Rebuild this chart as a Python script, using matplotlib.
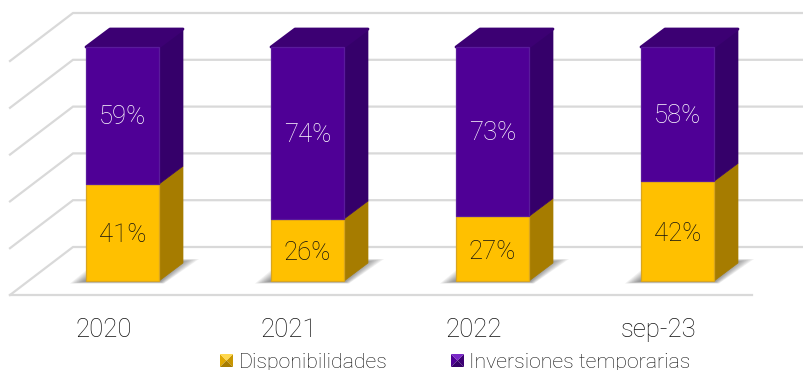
import matplotlib
matplotlib.use("Agg")
import matplotlib.pyplot as plt
from matplotlib.patches import Polygon

plt.rcParams['font.family'] = ['Roboto', 'DejaVu Sans']

categories = ['2020', '2021', '2022', 'sep-23']
# heights as measured on the picture, labels as printed
disponibilidades = [41.4, 26.5, 27.6, 42.6]
inversiones = [58.6, 73.5, 72.4, 57.4]
disp_labels = ['41%', '26%', '27%', '42%']
inv_labels = ['59%', '74%', '73%', '58%']
grid_values = [0, 20, 40, 60, 80, 100]
legend_labels = ['Disponibilidades', 'Inversiones temporarias']

W, H = 804, 370
X0, STEP = 122.5, 185.0   # pixel centre of first bar, spacing
Y0, UNIT = 281.0, 2.34    # pixel of value 0, pixels per percent


def px(x, y):
    # picture pixels to data coords
    return (x - X0) / STEP, (Y0 - y) / UNIT


fig = plt.figure(figsize=(W / 100, H / 100), dpi=100)
ax = fig.add_axes([0, 0, 1, 1])
ax.set_xlim(px(0, 0)[0], px(W, 0)[0])
ax.set_ylim(px(0, H)[1], px(0, 0)[1])
ax.axis('off')

half = 36.5 / STEP
dx = 24 / STEP
dy = 18 / UNIT
GRID = '#d9d9d9'
TEXT = '#111111'

# back wall and side wall grid lines
back_x = px(73, 0)[0]
left_x = px(10, 0)[0]
wall_drop = 48 / UNIT
back_base = (Y0 - 247) / UNIT
for v in grid_values:
    y = back_base + v
    ax.plot([left_x, back_x, px(W, 0)[0]], [y - wall_drop, y, y], color=GRID, lw=1.6,
            solid_joinstyle='miter', zorder=1)
ax.plot([left_x, px(752, 0)[0]], [back_base - wall_drop] * 2, color=GRID, lw=1.6, zorder=1)


def box(i, bottom, height, front, side, top, edge, show_top):
    l, r = i - half, i + half
    b, t = bottom, bottom + height
    ax.add_patch(Polygon([(r, b), (r + dx, b + dy), (r + dx, t + dy), (r, t)],
                         fc=side, ec=side, lw=0.5, zorder=4))
    if show_top:
        ax.add_patch(Polygon([(l, t), (l + dx, t + dy), (r + dx, t + dy), (r, t)],
                             fc=top, ec=top, lw=2, joinstyle='round', zorder=4))
    ax.add_patch(Polygon([(l, b), (r, b), (r, t), (l, t)],
                         fc=front, ec=edge, lw=0.9, zorder=5))


for i, (d, v) in enumerate(zip(disponibilidades, inversiones)):
    # soft floor shadow, layers shrink towards the bar
    for k in range(12):
        g = k * 1.5
        sx0 = i - half - (16 - g) / STEP
        sx1 = i + half + (5 - g * 0.3) / STEP
        low = -(2.5 - k * 0.2) / UNIT
        high = (22 - k * 0.3) / UNIT
        shift = (30 + g * 0.1) / STEP
        ax.add_patch(Polygon([(sx0, low), (sx1, low), (sx1 + (35 - g) / STEP, high), (sx0 + shift, high)],
                             fc='#444444', ec='none', alpha=0.075, zorder=2))
    box(i, 0, d, '#ffc000', '#a67c00', '#a67c00', '#d8a520', False)
    box(i, d, v, '#4f0096', '#35006a', '#3c0073', '#5a1a9c', True)
    ax.text(i, d / 2 - 1.2, disp_labels[i], ha='center', va='center', fontsize=18.5,
            fontweight='light', color=TEXT, zorder=6)
    ax.text(i, d + v / 2 - 0.7, inv_labels[i], ha='center', va='center', fontsize=18.5,
            fontweight='light', color='white', zorder=6)
    ax.text(i - 19 / STEP, px(0, 330)[1], categories[i], ha='center', va='center',
            fontsize=18.5, fontweight='light', color=TEXT)


def legend_marker(x, y, s, light, mid, dark, centre):
    # bevelled square, 13 px
    c = px(x + s / 2, y + s / 2)
    tl, tr, br, bl = px(x, y), px(x + s, y), px(x + s, y + s), px(x, y + s)
    ax.add_patch(Polygon([bl, tl, c], fc=centre, ec='none', zorder=6))
    ax.add_patch(Polygon([tr, br, c], fc=mid, ec='none', zorder=6))
    ax.add_patch(Polygon([br, bl, c], fc=dark, ec='none', zorder=6))
    ax.add_patch(Polygon([tl, tr, c], fc=light, ec='none', zorder=6))


legend_marker(220, 354, 13, '#ffd84d', '#c89600', '#a67c00', '#e0a800')
ax.text(*px(238.5, 362), legend_labels[0], ha='left', va='center', fontsize=15.3,
        fontweight='light', color=TEXT)
legend_marker(451, 354, 13, '#7a28c8', '#3c0073', '#35006a', '#4f0096')
ax.text(*px(469.5, 362), legend_labels[1], ha='left', va='center', fontsize=15.3,
        fontweight='light', color=TEXT)

fig.savefig('out.png', dpi=100)
